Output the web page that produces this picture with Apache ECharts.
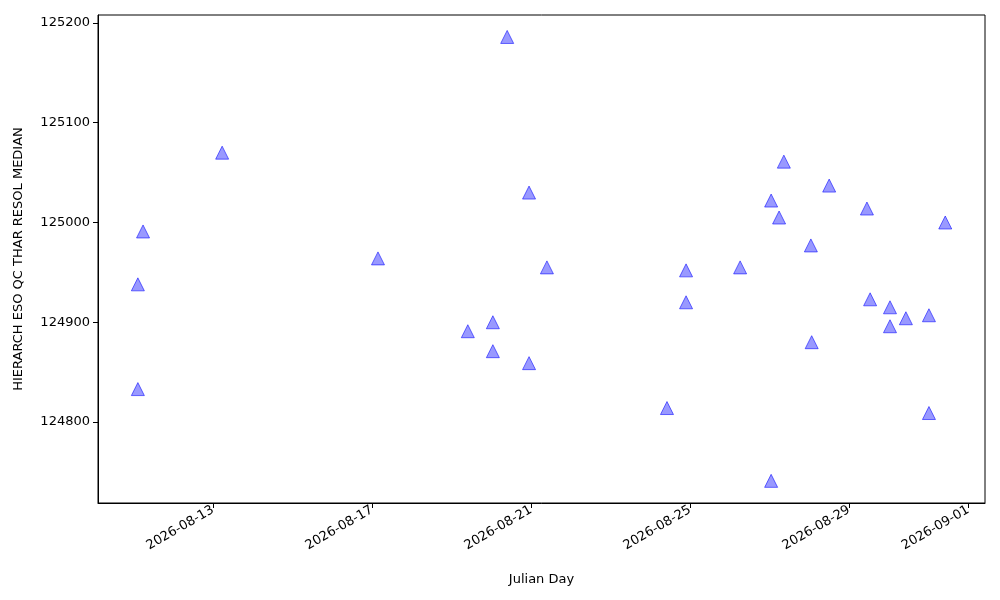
<!DOCTYPE html>
<html><head><meta charset="utf-8">
<script src="https://cdn.jsdelivr.net/npm/echarts@6/dist/echarts.min.js"></script>
<style>body{margin:0}#c{width:1000px;height:600px}</style></head>
<body><div id="c"></div>
<script>
// x: day of August 2026 (fractional), y: resolution median
const dayOfAugust = [11.11,11.11,11.24,13.23,17.15,19.41,20.04,20.04,20.40,20.95,20.95,21.40,24.42,24.90,24.90,26.26,27.04,27.04,27.24,27.36,28.04,28.06,28.50,29.45,29.53,30.03,30.03,30.43,31.01,31.01,31.42];
const resolMedian = [124833,124938,124991,125070,124964,124891,124900,124871,125186,125030,124859,124955,124814,124952,124920,124955,125022,124741,125005,125061,124977,124880,125037,125014,124923,124915,124896,124904,124907,124809,125000];
const xTicks = [13,17,21,25,29,32];
const yTicks = [124800,124900,125000,125100,125200];
function dayLabel(d){
  const t = new Date(Date.UTC(2026,7,1) + (d-1)*86400000);
  return t.getUTCFullYear()+'-'+String(t.getUTCMonth()+1).padStart(2,'0')+'-'+String(t.getUTCDate()).padStart(2,'0');
}
const data = dayOfAugust.map((d,i)=>[d,resolMedian[i]]);
const chart = echarts.init(document.getElementById('c'));
const font = {fontFamily:'DejaVu Sans',fontSize:13,color:'#000'};
chart.setOption({
  animation:false,
  grid:{left:98,right:15,top:15,bottom:97,show:true,borderColor:'#000',borderWidth:1},
  xAxis:{type:'value',min:10.107,max:32.42,name:'Julian Day',nameLocation:'middle',nameGap:70,
    nameTextStyle:{...font},
    axisLine:{lineStyle:{color:'#000'}},splitLine:{show:false},
    axisTick:{customValues:xTicks,length:5,inside:false,lineStyle:{color:'#000'}},
    axisLabel:{customValues:xTicks,rotate:30,formatter:dayLabel,...font,margin:6}},
  yAxis:{type:'value',min:124718.8,max:125208,name:'HIERARCH ESO QC THAR RESOL MEDIAN',nameLocation:'middle',nameGap:73,
    nameTextStyle:{...font},
    axisLine:{show:true,lineStyle:{color:'#000'}},splitLine:{show:false},
    axisTick:{show:true,customValues:yTicks,length:5,lineStyle:{color:'#000'}},
    axisLabel:{customValues:yTicks,formatter:v=>String(v),...font,margin:8}},
  series:[{type:'scatter',symbol:'triangle',symbolSize:13,data:data,
    itemStyle:{color:'rgba(0,0,255,0.5)',borderColor:'rgba(0,0,255,0.7)',borderWidth:1}}]
});
</script></body></html>
